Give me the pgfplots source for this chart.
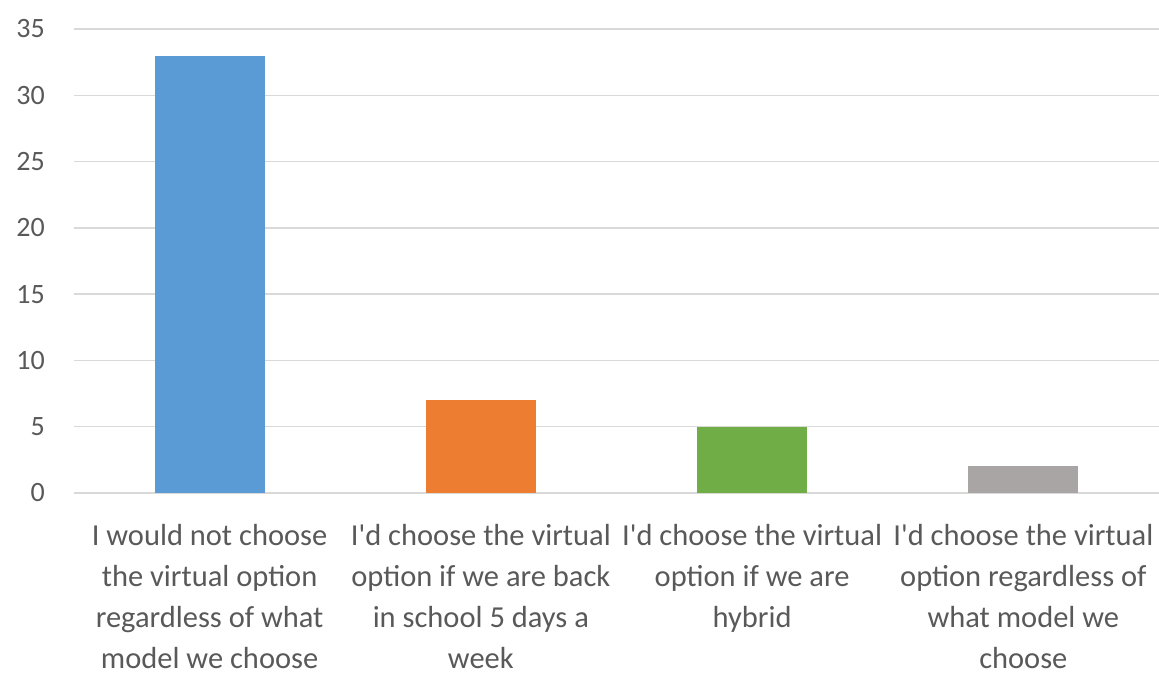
\documentclass[border=0pt]{standalone}
\usepackage{fontspec}
\setmainfont{Carlito}
\usepackage{pgfplots}
\pgfplotsset{compat=1.18}
\definecolor{cblue}{HTML}{5B9BD5}
\definecolor{corange}{HTML}{ED7D31}
\definecolor{cgreen}{HTML}{70AD47}
\definecolor{cgray}{HTML}{A9A5A5}
\definecolor{gridc}{HTML}{D9D9D9}
\definecolor{txt}{HTML}{595959}
\begin{document}
\begin{tikzpicture}
\begin{axis}[
  at={(0,0)}, anchor=south west,
  scale only axis, width=1085pt, height=464pt,
  xmin=-0.5, xmax=3.5, ymin=0, ymax=35,
  ytick={0,5,...,35},
  xtick={0,1,2,3},
  xticklabels={
    {I would not choose\\the virtual option\\regardless of what\\model we choose},
    {I\textquotesingle d choose the virtual\\option if we are back\\in school 5 days a\\week},
    {I\textquotesingle d choose the virtual\\option if we are\\hybrid},
    {I\textquotesingle d choose the virtual\\option regardless of\\what model we\\choose}},
  /pgf/number format/assume math mode=true,
  ymajorgrids, grid style={gridc, line width=1.5pt},
  axis line style={draw=none},
  major tick length=0pt,
  yticklabel style={font=\fontsize{28}{34}\selectfont, text=txt, anchor=east, inner sep=0pt, xshift=-29pt},
  xticklabel style={font=\fontsize{30.5}{41}\selectfont, text=txt, align=center, anchor=north, inner sep=0pt, yshift=-31pt},
  ybar, bar width=110pt, bar shift=0pt,
  clip=false,
]
\addplot[fill=cblue, draw=none] coordinates {(0,33)};
\addplot[fill=corange, draw=none] coordinates {(1,7)};
\addplot[fill=cgreen, draw=none] coordinates {(2,5)};
\addplot[fill=cgray, draw=none] coordinates {(3,2)};
\end{axis}
\pgfresetboundingbox
\path[use as bounding box] (-74pt,-181pt) rectangle (1085pt,493pt);
\end{tikzpicture}
\end{document}
